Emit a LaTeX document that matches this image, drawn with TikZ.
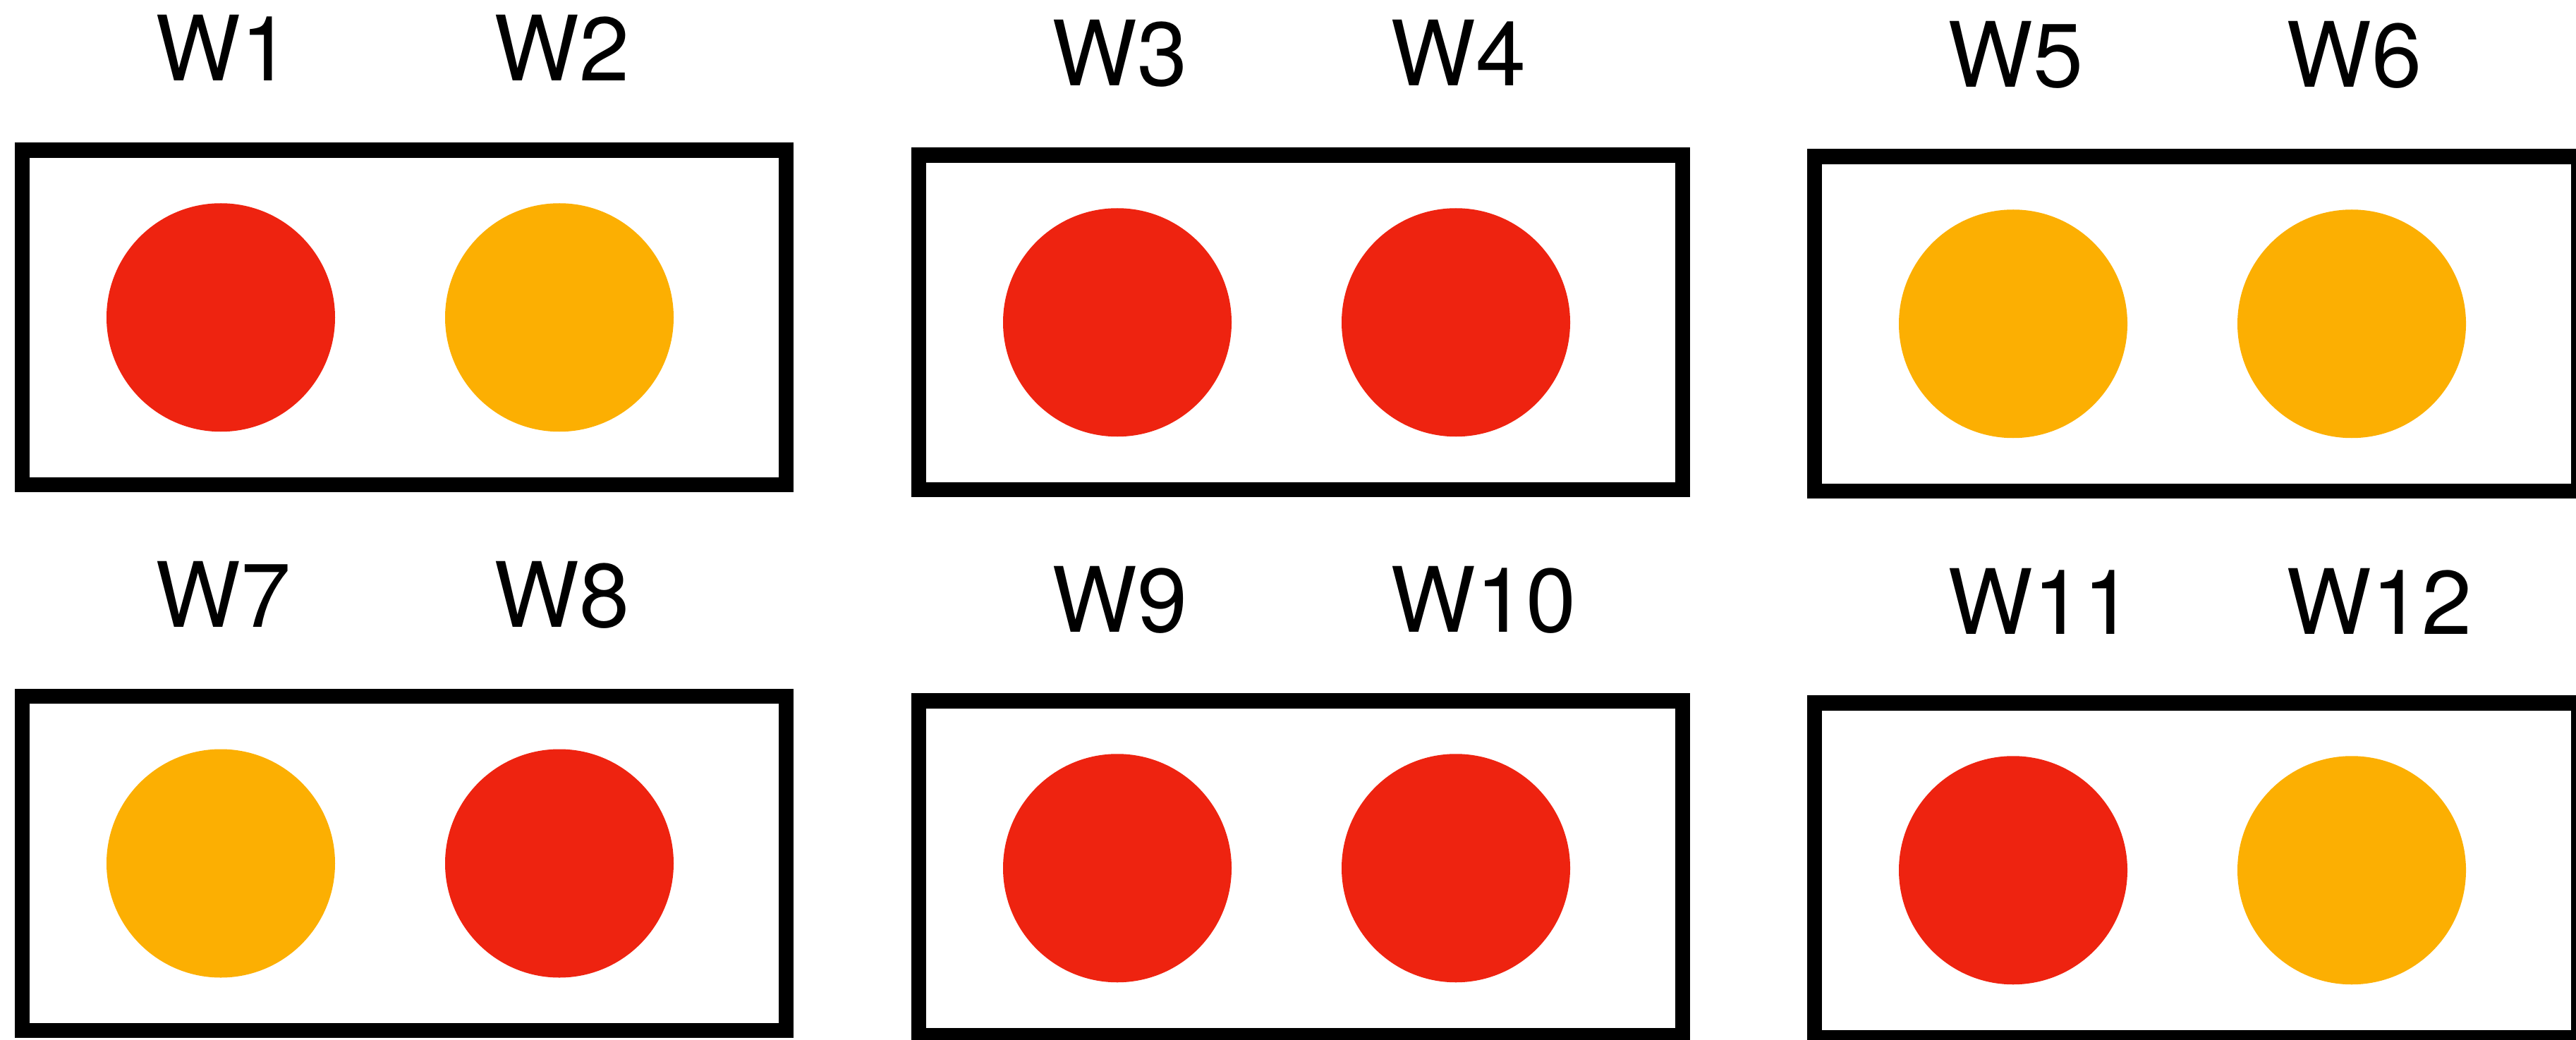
\documentclass[tikz,border=0pt]{standalone}
\usepackage{fontspec}
\setmainfont{TeX Gyre Heros}
\usepackage{tikz}
\usetikzlibrary{positioning,calc}
\definecolor{hotred}{HTML}{EE2310}
\definecolor{amber}{HTML}{FCAF02}

\begin{document}
\begin{tikzpicture}[
  font=\fontsize{36.4}{40}\selectfont,
  well/.style={draw=black,line width=5.98pt,minimum width=10.83cm,minimum height=4.745cm,inner sep=0pt},
  dot/.style={circle,draw=none,minimum size=3.24cm,inner sep=0pt},
  reddot/.style={dot,fill=hotred},
  ambdot/.style={dot,fill=amber},
  tag/.style={anchor=base west,inner sep=0pt,xshift=-9.3mm,yshift=33.525mm}
]
\useasboundingbox (0,0) rectangle (36.52,14.74);

% ---- top row of wells ----
\node[well] (b1) at (5.73,10.2375) {};
\node[well] (b2) at (18.44,10.1675) {};
\node[well] (b3) at (31.14,10.1475) {};

% ---- bottom row of wells ----
\node[well] (b4) at (5.73,2.495) {};
\node[well] (b5) at (18.44,2.4275) {};
\node[well] (b6) at (31.14,2.3975) {};

% ---- dots ----
\node[reddot] (w1) at ($(b1)+(-2.6,0)$) {};
\node[ambdot] (w2) at ($(b1)+(2.2,0)$) {};
\node[reddot] (w3) at ($(b2)+(-2.6,0)$) {};
\node[reddot] (w4) at ($(b2)+(2.2,0)$) {};
\node[ambdot] (w5) at ($(b3)+(-2.6,0)$) {};
\node[ambdot] (w6) at ($(b3)+(2.2,0)$) {};
\node[ambdot] (w7) at ($(b4)+(-2.6,0)$) {};
\node[reddot] (w8) at ($(b4)+(2.2,0)$) {};
\node[reddot] (w9) at ($(b5)+(-2.6,0)$) {};
\node[reddot] (w10) at ($(b5)+(2.2,0)$) {};
\node[reddot] (w11) at ($(b6)+(-2.6,0)$) {};
\node[ambdot] (w12) at ($(b6)+(2.2,0)$) {};

% ---- labels ----
\node[tag] (t1) at (w1) {W1};
\node[tag] (t2) at (w2) {W2};
\node[tag] (t3) at (w3) {W3};
\node[tag] (t4) at (w4) {W4};
\node[tag] (t5) at (w5) {W5};
\node[tag] (t6) at (w6) {W6};
\node[tag] (t7) at (w7) {W7};
\node[tag] (t8) at (w8) {W8};
\node[tag] (t9) at (w9) {W9};
\node[tag] (t10) at (w10) {W10};
\node[tag] (t11) at (w11) {W11};
\node[tag] (t12) at (w12) {W12};

\end{tikzpicture}
\end{document}
